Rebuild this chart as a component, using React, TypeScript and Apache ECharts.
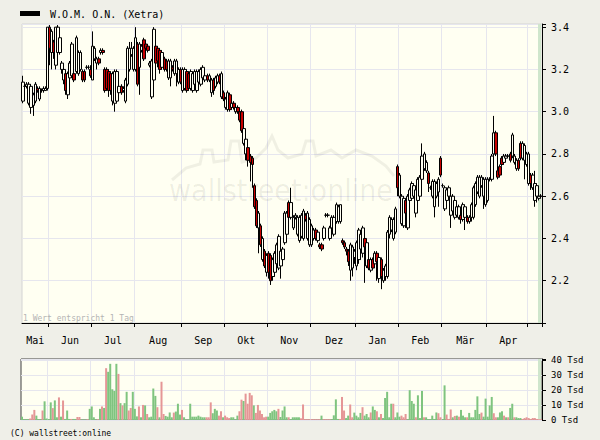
import React, { useEffect, useRef } from "react";
import * as echarts from "echarts";

const monthNames = ["Mai", "Jun", "Jul", "Aug", "Sep", "Okt", "Nov", "Dez", "Jan", "Feb", "Mär", "Apr", ""];
const monthDays = [13, 21, 21, 23, 21, 21, 21, 22, 21, 21, 22, 20, 7];

const priceTicks = [2.2, 2.4, 2.6, 2.8, 3.0, 3.2, 3.4];
const volumeTicks = [0, 10, 20, 30, 40];

// [open, close, low, high]
const prices: number[][] = [
  [3.05, 3.14, 3.04, 3.17], [3.12, 3.12, 3.11, 3.13], [3.12, 3.13, 3.11, 3.14], [3.04, 3.13, 3.03, 3.14],
  [3.02, 3.12, 2.99, 3.13], [3.03, 3.08, 2.98, 3.09], [3.05, 3.13, 3.04, 3.14], [3.11, 3.1, 3.09, 3.12],
  [3.06, 3.11, 3.05, 3.12], [3.1, 3.1, 3.09, 3.11], [3.1, 3.11, 3.09, 3.12], [3.1, 3.11, 3.1, 3.12],
  [3.11, 3.4, 3.1, 3.4],
  // Jun
  [3.4, 3.3, 3.22, 3.41], [3.28, 3.38, 3.2, 3.39], [3.33, 3.28, 3.25, 3.34], [3.22, 3.4, 3.2, 3.4],
  [3.28, 3.4, 3.27, 3.41], [3.28, 3.35, 3.27, 3.36], [3.2, 3.23, 3.18, 3.24], [3.15, 3.2, 3.13, 3.21],
  [3.18, 3.1, 3.08, 3.19], [3.08, 3.18, 3.06, 3.19], [3.16, 3.23, 3.15, 3.24], [3.17, 3.32, 3.16, 3.33],
  [3.18, 3.15, 3.14, 3.19], [3.19, 3.35, 3.18, 3.36], [3.18, 3.28, 3.17, 3.29], [3.2, 3.28, 3.19, 3.29],
  [3.19, 3.15, 3.14, 3.2], [3.19, 3.15, 3.14, 3.2], [3.21, 3.21, 3.2, 3.22], [3.21, 3.21, 3.2, 3.22],
  [3.2, 3.17, 3.16, 3.22],
  // Jul
  [3.15, 3.31, 3.15, 3.38], [3.25, 3.3, 3.24, 3.31], [3.23, 3.25, 3.2, 3.26], [3.25, 3.23, 3.22, 3.26],
  [3.28, 3.29, 3.27, 3.3], [3.29, 3.28, 3.27, 3.3], [3.2, 3.1, 3.09, 3.21], [3.2, 3.11, 3.1, 3.21],
  [3.19, 3.1, 3.07, 3.2], [3.18, 3.1, 3.08, 3.19], [3.05, 3.18, 3.03, 3.19], [3.04, 3.19, 3.0, 3.2],
  [3.05, 3.19, 3.04, 3.2], [3.09, 3.12, 3.08, 3.13], [3.12, 3.09, 3.08, 3.13], [3.1, 3.11, 3.09, 3.12],
  [3.05, 3.15, 3.04, 3.16], [3.13, 3.3, 3.12, 3.31], [3.2, 3.3, 3.19, 3.33], [3.27, 3.3, 3.26, 3.33],
  [3.2, 3.3, 3.19, 3.31],
  // Aug
  [3.2, 3.35, 3.19, 3.4], [3.32, 3.13, 3.12, 3.33], [3.21, 3.32, 3.08, 3.33], [3.29, 3.31, 3.28, 3.32],
  [3.34, 3.25, 3.24, 3.35], [3.32, 3.3, 3.29, 3.33], [3.31, 3.29, 3.28, 3.32], [3.22, 3.23, 3.21, 3.24],
  [3.07, 3.24, 3.06, 3.25], [3.15, 3.39, 3.14, 3.4], [3.31, 3.23, 3.2, 3.32], [3.3, 3.24, 3.21, 3.31],
  [3.29, 3.2, 3.18, 3.3], [3.21, 3.28, 3.2, 3.29], [3.25, 3.2, 3.19, 3.26], [3.24, 3.2, 3.19, 3.25],
  [3.16, 3.24, 3.15, 3.25], [3.16, 3.24, 3.12, 3.25], [3.21, 3.2, 3.19, 3.22], [3.18, 3.24, 3.17, 3.25],
  [3.18, 3.24, 3.12, 3.25], [3.14, 3.2, 3.13, 3.21], [3.2, 3.14, 3.13, 3.21],
  // Sep
  [3.1, 3.2, 3.09, 3.21], [3.11, 3.2, 3.1, 3.21], [3.19, 3.1, 3.09, 3.2], [3.18, 3.11, 3.1, 3.19],
  [3.11, 3.19, 3.1, 3.2], [3.1, 3.18, 3.09, 3.19], [3.13, 3.19, 3.12, 3.2], [3.1, 3.19, 3.09, 3.2],
  [3.14, 3.19, 3.13, 3.2], [3.13, 3.2, 3.12, 3.21], [3.16, 3.21, 3.15, 3.22], [3.15, 3.17, 3.14, 3.18],
  [3.17, 3.15, 3.14, 3.18], [3.15, 3.17, 3.14, 3.18], [3.09, 3.15, 3.07, 3.16], [3.15, 3.1, 3.08, 3.16],
  [3.12, 3.16, 3.11, 3.17], [3.14, 3.17, 3.13, 3.18], [3.17, 3.14, 3.13, 3.18], [3.07, 3.18, 3.06, 3.19],
  [3.09, 3.06, 3.05, 3.1],
  // Okt
  [3.02, 3.06, 3.01, 3.07], [3.01, 3.09, 3.0, 3.1], [3.08, 3.01, 3.0, 3.09], [3.02, 3.04, 3.01, 3.05],
  [3.04, 3.02, 3.01, 3.05], [3.0, 3.02, 2.99, 3.03], [3.02, 3.0, 2.99, 3.03], [3.0, 2.96, 2.95, 3.01],
  [3.0, 2.91, 2.9, 3.01], [2.85, 2.92, 2.84, 2.93], [2.8, 2.87, 2.77, 2.88], [2.83, 2.77, 2.74, 2.84],
  [2.79, 2.76, 2.67, 2.8], [2.78, 2.75, 2.64, 2.79], [2.65, 2.55, 2.54, 2.66], [2.58, 2.46, 2.45, 2.59],
  [2.45, 2.52, 2.33, 2.53], [2.46, 2.37, 2.36, 2.47], [2.3, 2.4, 2.29, 2.41], [2.34, 2.27, 2.26, 2.35],
  [2.24, 2.32, 2.22, 2.33],
  // Nov
  [2.33, 2.24, 2.21, 2.34], [2.32, 2.2, 2.18, 2.33], [2.22, 2.3, 2.2, 2.31], [2.24, 2.33, 2.22, 2.34],
  [2.28, 2.37, 2.27, 2.38], [2.26, 2.41, 2.25, 2.42], [2.27, 2.34, 2.21, 2.35], [2.3, 2.35, 2.29, 2.36],
  [2.38, 2.52, 2.37, 2.53], [2.42, 2.52, 2.41, 2.53], [2.57, 2.5, 2.49, 2.58], [2.5, 2.57, 2.49, 2.64],
  [2.45, 2.5, 2.44, 2.51], [2.5, 2.51, 2.49, 2.52], [2.42, 2.5, 2.41, 2.51], [2.39, 2.5, 2.38, 2.51],
  [2.41, 2.51, 2.4, 2.52], [2.4, 2.53, 2.39, 2.54], [2.51, 2.49, 2.48, 2.52], [2.4, 2.52, 2.39, 2.53],
  [2.37, 2.49, 2.36, 2.5],
  // Dez
  [2.37, 2.46, 2.36, 2.47], [2.4, 2.44, 2.39, 2.45], [2.44, 2.4, 2.39, 2.45], [2.39, 2.43, 2.38, 2.44],
  [2.37, 2.36, 2.35, 2.38], [2.37, 2.35, 2.34, 2.38], [2.4, 2.45, 2.39, 2.46], [2.51, 2.51, 2.5, 2.52],
  [2.51, 2.51, 2.5, 2.52], [2.4, 2.45, 2.39, 2.46], [2.45, 2.5, 2.44, 2.51], [2.42, 2.5, 2.41, 2.51],
  [2.48, 2.56, 2.47, 2.57], [2.48, 2.55, 2.47, 2.56], [2.48, 2.56, 2.47, 2.56], [2.39, 2.38, 2.37, 2.4],
  [2.38, 2.36, 2.35, 2.39], [2.35, 2.34, 2.32, 2.36], [2.34, 2.29, 2.27, 2.35], [2.25, 2.37, 2.2, 2.38],
  [2.26, 2.36, 2.22, 2.37], [2.31, 2.34, 2.28, 2.35],
  // Jan
  [2.27, 2.38, 2.25, 2.39], [2.3, 2.44, 2.28, 2.45], [2.35, 2.42, 2.3, 2.43], [2.33, 2.45, 2.31, 2.46],
  [2.4, 2.36, 2.19, 2.41], [2.27, 2.38, 2.26, 2.39], [2.3, 2.26, 2.25, 2.31], [2.25, 2.3, 2.24, 2.31],
  [2.3, 2.26, 2.25, 2.31], [2.28, 2.33, 2.27, 2.34], [2.33, 2.29, 2.2, 2.34], [2.21, 2.31, 2.19, 2.32],
  [2.3, 2.22, 2.16, 2.31], [2.2, 2.25, 2.19, 2.26], [2.22, 2.27, 2.2, 2.28], [2.22, 2.43, 2.21, 2.44],
  [2.42, 2.5, 2.4, 2.51], [2.44, 2.49, 2.43, 2.5], [2.4, 2.49, 2.39, 2.5], [2.43, 2.54, 2.42, 2.55],
  [2.74, 2.64, 2.6, 2.75],
  // Feb
  [2.6, 2.7, 2.59, 2.71], [2.47, 2.6, 2.46, 2.61], [2.46, 2.59, 2.45, 2.6], [2.58, 2.52, 2.45, 2.59],
  [2.45, 2.6, 2.44, 2.61], [2.58, 2.63, 2.55, 2.64], [2.59, 2.66, 2.58, 2.67], [2.6, 2.65, 2.59, 2.66],
  [2.52, 2.63, 2.5, 2.64], [2.58, 2.68, 2.57, 2.69], [2.6, 2.69, 2.59, 2.7], [2.68, 2.79, 2.67, 2.85],
  [2.73, 2.8, 2.72, 2.81], [2.72, 2.76, 2.71, 2.77], [2.71, 2.66, 2.62, 2.72], [2.64, 2.64, 2.63, 2.65],
  [2.6, 2.67, 2.59, 2.68], [2.55, 2.67, 2.5, 2.68], [2.6, 2.66, 2.59, 2.67], [2.62, 2.68, 2.55, 2.69],
  [2.78, 2.7, 2.69, 2.79],
  // Mär
  [2.65, 2.65, 2.64, 2.66], [2.54, 2.64, 2.53, 2.65], [2.58, 2.63, 2.57, 2.64], [2.6, 2.64, 2.59, 2.65],
  [2.51, 2.6, 2.45, 2.61], [2.53, 2.6, 2.52, 2.61], [2.5, 2.58, 2.49, 2.59], [2.51, 2.55, 2.5, 2.56],
  [2.5, 2.55, 2.49, 2.56], [2.51, 2.49, 2.47, 2.52], [2.49, 2.56, 2.48, 2.57], [2.5, 2.55, 2.44, 2.56],
  [2.5, 2.48, 2.47, 2.51], [2.48, 2.5, 2.47, 2.51], [2.5, 2.56, 2.48, 2.57], [2.5, 2.64, 2.49, 2.65],
  [2.56, 2.66, 2.55, 2.67], [2.62, 2.69, 2.61, 2.7], [2.6, 2.69, 2.59, 2.7], [2.65, 2.69, 2.64, 2.7],
  [2.6, 2.68, 2.54, 2.69], [2.56, 2.68, 2.55, 2.69],
  // Apr
  [2.58, 2.68, 2.57, 2.69], [2.68, 2.68, 2.67, 2.69], [2.68, 2.79, 2.67, 2.8], [2.8, 2.9, 2.79, 2.98],
  [2.9, 2.8, 2.79, 2.91], [2.72, 2.69, 2.68, 2.8], [2.74, 2.7, 2.69, 2.75], [2.78, 2.75, 2.74, 2.79],
  [2.76, 2.79, 2.75, 2.8], [2.78, 2.79, 2.77, 2.8], [2.79, 2.79, 2.78, 2.8], [2.8, 2.77, 2.76, 2.81],
  [2.79, 2.89, 2.78, 2.9], [2.76, 2.79, 2.75, 2.8], [2.73, 2.77, 2.72, 2.78], [2.77, 2.73, 2.72, 2.78],
  [2.85, 2.78, 2.77, 2.86], [2.78, 2.85, 2.77, 2.86], [2.77, 2.84, 2.68, 2.85], [2.75, 2.8, 2.74, 2.81],
  // Mai
  [2.66, 2.8, 2.65, 2.81], [2.7, 2.66, 2.63, 2.71], [2.64, 2.7, 2.63, 2.71], [2.58, 2.66, 2.55, 2.72],
  [2.6, 2.65, 2.57, 2.66], [2.59, 2.6, 2.58, 2.61], [2.6, 2.6, 2.59, 2.61],
];

// volume in thousands
const volumes: number[] = [
  2.2, 0.5, 0.5, 0.5, 1.0, 3.6, 6.7, 2.9, 0.6, 0.6,
  6.3, 12.4, 1.0, 0.5, 11.7, 7.9, 13, 1.8, 15, 2.2,
  13, 0.7, 6.3, 0.7, 0.7, 0.7, 0.7, 2, 2, 0.3,
  0.3, 0.3, 0.5, 7.4, 9, 1.8, 0.5, 0.5, 7.4, 9,
  8, 34.4, 32, 37.3, 20.4, 19.3, 37.3, 30.6, 11.2, 9.7,
  11.2, 18.7, 6.3, 8, 18.7, 7.4, 2.4, 9, 1.8, 10,
  9.7, 4, 1.8, 2.2, 20.9, 16, 8.5, 1.8, 25.4, 4,
  2.7, 2.2, 5, 1.8, 4.9, 5.6, 10.8, 3.6, 6.7, 1.8,
  0.3, 0.3, 10.8, 2.2, 2.2, 2.2, 2.9, 2.2, 1.8, 1.8,
  1.8, 1.8, 11.7, 4.5, 7.4, 6.3, 2.9, 5.8, 1.8, 2.9,
  1.8, 1.3, 1.8, 1.8, 0.3, 2.9, 5.8, 13.5, 12.6, 17.5,
  10.8, 18, 16.4, 9.7, 4.7, 10, 6.3, 4, 1.8, 2.2,
  2.2, 4.7, 5.8, 6.7, 5.8, 7.4, 2, 6.3, 9, 1.8,
  1.8, 0.5, 1.8, 1.8, 1.8, 1.8, 1.1, 10.3, 0.5, 0.5,
  0.5, 0.5, 0.5, 0.5, 0.5, 0.5, 2.9, 0.5, 0.5, 0.5,
  0.5, 0.5, 3.1, 13.7, 0.7, 0.7, 15.3, 6.3, 1.3, 2.9,
  10.3, 1.8, 4.9, 2.9, 1.8, 4.7, 8.5, 2.9, 4, 1.8,
  5, 9, 6.7, 5.8, 1.8, 4, 1.3, 14.6, 18.7, 1.8,
  10.8, 10.8, 1.8, 5, 2.2, 2.9, 1.8, 4, 0.5, 19.8,
  12.6, 10.8, 1.8, 16.4, 1.3, 19.3, 1.8, 1.8, 0.5, 0.5,
  2.9, 0.7, 5, 4.5, 1.8, 0.5, 23, 3.6, 0.7, 7,
  1.8, 2.7, 2.9, 2.2, 6.7, 2.9, 1.8, 1.8, 4.7, 1.8,
  1.8, 6.7, 15.7, 4, 4.9, 2.2, 14.2, 2.2, 9.7, 15.3,
  4.5, 1.8, 1.8, 5, 5.8, 2.9, 1.8, 1.8, 8, 10.8,
  1.8, 1.8, 1.3, 1.3, 0.7, 1.3, 1.8, 1.3, 0.7, 1.3,
  1.3, 0.7, 0.5, 0.5,
];

// g = rising (green), p = falling (pink)
const volumeDirection = (
  "ggggpppggg" + "pggggpggpg" + "pgggpggppg" + "ggpggggpgp" + "gpgggggpgp" +
  "ggppgggpgp" + "gpggggpgpp" + "ggggpgggpg" + "gggggggggg" + "pppgggppgp" +
  "ppggggppgp" + "pppgpppppp" + "gggggpgggg" + "pgggggpppp" + "ppppppgppp" +
  "pggggpppgg" + "ppggggpggg" + "pggpgpgggg" + "gpgggpppgg" + "ggpgggpggg" +
  "gggppggppp" + "gpgpgggpgg" + "ggggpggggg" + "ppgggpgpgg" + "pgggpppppp" + "pppp"
).split("");

const categories: string[] = [];
const monthStarts = new Set<number>();
const labelAt = new Map<number, string>();
{
  let idx = 0;
  monthDays.forEach((len, m) => {
    if (m > 0) monthStarts.add(idx);
    if (monthNames[m]) labelAt.set(idx + Math.floor(len / 2), monthNames[m]);
    for (let d = 0; d < len; d++) categories.push(`${monthNames[m] || "Mai"} ${d + 1}`);
    idx += len;
  });
}

const MONO = '"DejaVu Sans Mono", "Liberation Mono", monospace';
const GRID_LINE = "#e6e6ee";

export default function App() {
  const ref = useRef<HTMLDivElement>(null);
  useEffect(() => {
    const chart = echarts.init(ref.current!, null, { renderer: "svg" });
    const option: any = {
      animation: false,
      backgroundColor: "#efefe8",
      grid: [
        { left: 22, right: 58, top: 24, height: 299, show: true, backgroundColor: "#fffff2", borderColor: "#d4d4d4", borderWidth: 1 },
        { left: 21, right: 58, top: 359, height: 61, show: true, backgroundColor: "#fffff2", borderColor: "#404040", borderWidth: 1 },
      ],
      xAxis: [
        {
          type: "category", gridIndex: 0, data: categories, boundaryGap: true,
          axisLine: { show: true, lineStyle: { color: "#000", width: 1 } },
          axisTick: { show: true, length: 4, interval: (i: number) => monthStarts.has(i), lineStyle: { color: "#000" } },
          axisLabel: {
            show: true, interval: (i: number) => labelAt.has(i),
            formatter: (_v: string, i: number) => labelAt.get(i) || "",
            fontFamily: MONO, fontSize: 10, color: "#000", margin: 12,
          },
          splitLine: { show: true, interval: (i: number) => monthStarts.has(i), lineStyle: { color: GRID_LINE, width: 1 } },
        },
        {
          type: "category", gridIndex: 1, data: categories, boundaryGap: true,
          axisLine: { show: false }, axisTick: { show: false }, axisLabel: { show: false },
          splitLine: { show: true, interval: (i: number) => monthStarts.has(i), lineStyle: { color: GRID_LINE, width: 1 } },
        },
      ],
      yAxis: [
        {
          type: "value", gridIndex: 0, position: "right", min: 2.0, max: 3.415, interval: 0.2,
          axisLine: { show: true, lineStyle: { color: "#000" } },
          axisTick: { show: true, length: 4, lineStyle: { color: "#000" } },
          axisLabel: {
            fontFamily: MONO, fontSize: 10, color: "#000", margin: 9,
            formatter: (v: number) => {
              const t = priceTicks.find((p) => Math.abs(p - v) < 1e-6);
              return t !== undefined ? t.toFixed(1) : "";
            },
          },
          splitLine: { show: true, lineStyle: { color: GRID_LINE, width: 1 } },
        },
        {
          type: "value", gridIndex: 1, position: "right", min: 0, max: 40.5, interval: 10,
          axisLine: { show: true, lineStyle: { color: "#000" } },
          axisTick: { show: true, length: 4, lineStyle: { color: "#000" } },
          axisLabel: {
            fontFamily: MONO, fontSize: 9, color: "#000", margin: 9,
            formatter: (v: number) => (volumeTicks.includes(v) ? `${v} Tsd` : ""),
          },
          splitLine: { show: true, lineStyle: { color: GRID_LINE, width: 1 } },
        },
      ],
      graphic: [
        { type: "rect", z: 1, shape: { x: 538, y: 24, width: 3, height: 299 }, style: { fill: "#cfe6cc" } },
        { type: "rect", z: 1, shape: { x: 538, y: 359, width: 3, height: 61 }, style: { fill: "#cfe6cc" } },
        {
          type: "polyline", z: 1,
          shape: { points: [[172, 180], [186, 168], [200, 164], [203, 150], [212, 150], [214, 162], [228, 160], [231, 141], [239, 141], [242, 162], [256, 158], [266, 148], [272, 136], [278, 150], [288, 158], [302, 154], [306, 141], [313, 141], [316, 156], [331, 150], [342, 158], [356, 150], [372, 156], [386, 166], [394, 176]] },
          style: { stroke: "rgba(0,0,0,0.06)", lineWidth: 3, fill: null },
        },
        {
          type: "text", z: 1, x: 281, y: 190,
          style: { text: "wallstreet:online", fill: "rgba(0,0,0,0.07)", font: '30px "DejaVu Sans Condensed", "DejaVu Sans", sans-serif', align: "center", verticalAlign: "middle" },
        },
        { type: "rect", z: 3, shape: { x: 20, y: 11, width: 20, height: 5 }, style: { fill: "#000" } },
        { type: "text", z: 3, x: 50, y: 14, style: { text: "W.O.M. O.N. (Xetra)", fill: "#000", font: `10px ${MONO}`, verticalAlign: "middle" } },
        { type: "text", z: 3, x: 23, y: 318, style: { text: "1 Wert entspricht 1 Tag", fill: "#b4b4b4", font: `8px ${MONO}`, verticalAlign: "middle" } },
        { type: "text", z: 3, x: 10, y: 433, style: { text: "(C) wallstreet:online", fill: "#000", font: `8px ${MONO}`, verticalAlign: "middle" } },
      ],
      series: [
        {
          type: "candlestick", xAxisIndex: 0, yAxisIndex: 0, data: prices, barWidth: 3,
          itemStyle: { color: "#fffff2", color0: "#c80000", borderColor: "#000", borderColor0: "#000", borderColorDoji: "#000", borderWidth: 1 },
        },
        {
          type: "bar", xAxisIndex: 1, yAxisIndex: 1, data: volumes, barWidth: 2,
          itemStyle: { color: (p: any) => (volumeDirection[p.dataIndex] === "g" ? "#7fc47f" : "#e59696") },
        },
      ],
    };
    chart.setOption(option);
    return () => chart.dispose();
  }, []);
  return <div ref={ref} style={{ position: "fixed", left: 0, top: 0, width: 600, height: 440 }} />;
}
